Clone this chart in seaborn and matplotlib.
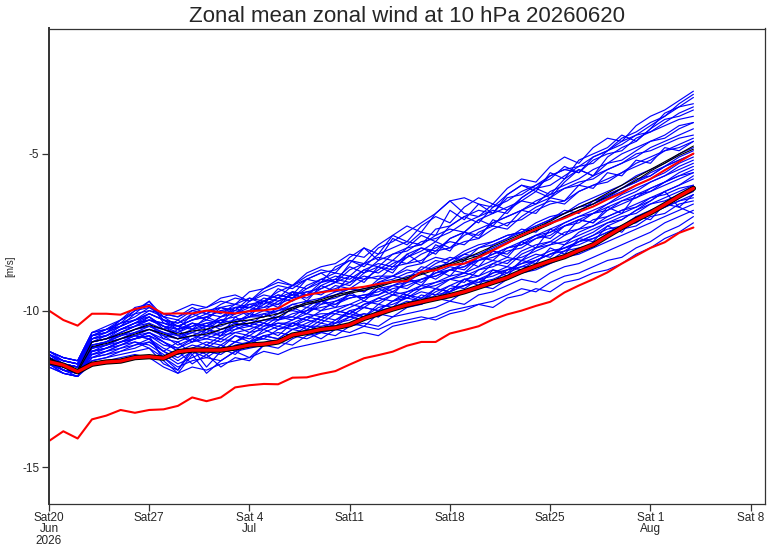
import pandas as pd
import numpy as np
import seaborn as sns
import matplotlib.pyplot as plt

# forecast start and daily steps (46 days)
start_date = "2026-06-20"
n_days = 46

# ensemble members, m/s, one value per day
members = {
    "m01": [-11.3,-11.5,-11.6,-10.7,-10.6,-10.4,-10.2,-9.9,-10.2,-10.3,-10.0,-9.9,-9.7,-9.8,-9.4,-9.3,-9.0,-9.2,-8.8,-8.6,-8.5,-8.2,-8.3,-7.9,-7.6,-7.8,-7.3,-7.0,-7.2,-6.7,-6.4,-6.6,-6.1,-5.8,-5.9,-5.4,-5.1,-5.3,-4.8,-4.5,-4.6,-4.1,-3.8,-3.6,-3.3,-3.0],
    "m02": [-11.8,-12.0,-12.1,-11.7,-11.6,-11.5,-11.4,-11.5,-11.8,-12.0,-11.8,-11.9,-11.7,-11.6,-11.5,-11.3,-11.4,-11.2,-11.1,-11.0,-10.9,-10.8,-10.7,-10.8,-10.5,-10.4,-10.3,-10.2,-10.0,-9.9,-9.8,-9.7,-9.5,-9.3,-9.4,-9.1,-8.9,-8.8,-8.6,-8.4,-8.3,-8.0,-7.8,-7.5,-7.3,-7.0],
    "m03": [-11.5,-11.8,-11.9,-11.1,-11.0,-10.8,-10.6,-10.5,-10.7,-10.9,-10.6,-10.7,-10.4,-10.3,-10.2,-10.1,-10.0,-9.8,-9.7,-9.6,-9.4,-9.3,-9.4,-9.1,-9.0,-8.8,-8.7,-8.4,-8.5,-8.2,-8.0,-7.8,-7.6,-7.5,-7.2,-7.0,-6.9,-6.6,-6.4,-6.2,-6.0,-5.7,-5.5,-5.3,-5.0,-4.8],
    "m04": [-11.4,-11.7,-11.8,-10.9,-10.8,-10.6,-10.4,-10.2,-10.5,-10.8,-11.0,-10.8,-10.9,-10.6,-10.4,-10.5,-10.2,-10.3,-10.0,-9.7,-9.8,-9.5,-9.6,-9.2,-9.4,-9.1,-8.8,-9.0,-8.7,-8.6,-8.3,-8.4,-8.0,-7.9,-7.6,-7.7,-7.3,-7.1,-7.2,-6.8,-6.6,-6.4,-6.2,-6.0,-5.8,-5.6],
    "m05": [-11.4,-11.6,-11.7,-10.8,-10.7,-10.5,-10.1,-9.7,-10.4,-10.6,-10.1,-10.3,-9.9,-10.0,-9.6,-9.8,-9.3,-9.5,-9.0,-8.8,-9.1,-8.5,-8.0,-8.4,-7.7,-7.9,-7.5,-7.6,-6.8,-7.1,-6.6,-6.9,-6.3,-6.0,-6.2,-5.6,-5.8,-5.2,-5.0,-4.8,-4.4,-4.6,-4.2,-3.9,-3.8,-3.6],
    "m06": [-11.7,-11.9,-12.0,-11.5,-11.4,-11.2,-11.0,-11.1,-11.4,-11.7,-11.5,-11.3,-11.4,-11.1,-11.0,-10.8,-10.9,-10.6,-10.5,-10.6,-10.3,-10.1,-10.2,-9.9,-9.8,-9.6,-9.7,-9.4,-9.2,-9.3,-9.0,-8.8,-8.7,-8.5,-8.3,-8.1,-8.0,-7.8,-7.6,-7.4,-7.3,-7.0,-6.8,-6.6,-6.4,-6.2],
    "m07": [-11.5,-11.7,-11.8,-11.0,-10.9,-10.7,-10.5,-10.3,-10.4,-10.5,-10.3,-10.2,-10.0,-9.9,-9.9,-9.7,-9.5,-9.6,-9.3,-9.1,-8.9,-9.0,-8.7,-8.5,-8.6,-8.2,-8.0,-8.1,-7.7,-7.5,-7.6,-7.2,-7.0,-6.8,-6.5,-6.3,-6.1,-6.0,-5.7,-5.5,-5.3,-5.1,-4.8,-4.6,-4.4,-4.2],
    "m08": [-11.6,-11.9,-12.0,-11.3,-11.2,-11.0,-10.9,-10.8,-11.6,-12.0,-11.4,-12.0,-11.6,-11.3,-11.5,-11.1,-11.2,-10.9,-10.7,-10.9,-10.6,-10.4,-10.5,-10.1,-10.2,-9.9,-9.8,-9.6,-9.7,-9.4,-9.2,-9.3,-9.0,-8.8,-8.7,-8.5,-8.3,-8.2,-8.0,-7.8,-7.6,-7.4,-7.2,-7.0,-6.8,-6.6],
    "m09": [-11.5,-11.8,-11.9,-11.2,-11.1,-10.9,-10.8,-10.6,-10.8,-11.1,-10.9,-10.7,-10.8,-10.5,-10.3,-10.4,-10.1,-10.0,-10.1,-9.8,-9.7,-9.5,-9.6,-9.3,-9.2,-9.0,-9.1,-8.8,-8.6,-8.7,-8.3,-8.1,-8.2,-7.8,-7.6,-7.5,-7.2,-7.0,-6.9,-6.6,-6.4,-6.2,-5.9,-5.7,-5.4,-5.2],
    "m10": [-11.3,-11.5,-11.6,-10.8,-10.7,-10.4,-10.3,-10.1,-10.3,-10.5,-10.6,-10.4,-10.6,-10.5,-10.7,-10.4,-10.6,-10.5,-10.3,-10.4,-10.1,-10.2,-9.9,-10.0,-9.7,-9.5,-9.6,-9.3,-9.4,-9.0,-8.9,-8.7,-8.8,-8.4,-8.2,-8.3,-7.9,-7.7,-7.5,-7.2,-7.0,-6.9,-6.6,-6.4,-6.2,-6.0],
    "m11": [-11.6,-11.8,-11.9,-11.2,-11.0,-10.8,-10.6,-10.4,-10.6,-10.7,-10.5,-10.3,-10.4,-10.1,-10.0,-9.7,-9.8,-9.4,-9.5,-9.1,-9.0,-8.6,-8.8,-8.4,-8.2,-8.0,-7.6,-7.8,-7.3,-7.0,-7.2,-6.7,-6.5,-6.2,-6.0,-5.8,-5.4,-5.6,-5.1,-4.9,-4.5,-4.3,-4.0,-3.8,-3.5,-3.4],
    "m12": [-11.6,-11.9,-12.0,-11.4,-11.3,-11.1,-10.9,-10.7,-11.0,-11.3,-11.1,-11.2,-10.9,-11.0,-10.7,-10.6,-10.4,-10.5,-10.2,-10.3,-10.0,-10.1,-9.8,-9.7,-9.5,-9.6,-9.3,-9.2,-9.0,-9.1,-8.7,-8.5,-8.6,-8.2,-8.0,-7.9,-7.6,-7.4,-7.3,-7.0,-6.8,-6.7,-6.4,-6.2,-6.0,-5.8],
    "m13": [-11.4,-11.6,-11.7,-10.9,-10.8,-10.6,-10.4,-10.1,-10.3,-10.4,-10.2,-10.0,-9.9,-10.1,-9.7,-9.5,-9.6,-9.2,-9.0,-9.1,-8.6,-8.4,-8.5,-8.0,-7.8,-7.5,-7.2,-6.9,-6.5,-6.9,-7.0,-6.6,-6.8,-6.4,-6.1,-6.3,-5.8,-5.5,-5.7,-5.3,-5.0,-4.8,-4.6,-4.4,-4.1,-4.0],
    "m14": [-11.5,-11.7,-11.8,-11.0,-10.9,-10.8,-10.6,-10.5,-10.6,-10.8,-10.7,-10.5,-10.3,-10.4,-10.2,-10.0,-10.1,-9.8,-9.9,-9.6,-9.5,-9.3,-9.4,-9.0,-8.9,-8.7,-8.8,-8.5,-8.3,-8.4,-8.0,-7.9,-7.7,-7.4,-7.5,-7.1,-6.9,-6.7,-6.6,-6.3,-6.1,-5.9,-5.6,-5.4,-5.2,-5.0],
    "m15": [-11.7,-11.9,-12.0,-11.6,-11.5,-11.3,-11.2,-11.0,-11.3,-11.5,-11.2,-11.4,-11.1,-11.3,-11.0,-10.9,-11.0,-10.8,-10.9,-10.7,-10.6,-10.7,-10.5,-10.6,-10.4,-10.3,-10.2,-10.3,-10.1,-10.0,-9.8,-9.9,-9.6,-9.5,-9.3,-9.4,-9.1,-9.0,-8.8,-8.7,-8.5,-8.2,-8.0,-7.7,-7.5,-7.2],
    "m16": [-11.4,-11.7,-11.8,-10.9,-10.8,-10.5,-10.3,-10.2,-10.5,-10.6,-10.4,-10.5,-10.2,-10.0,-10.1,-9.8,-9.6,-9.7,-9.4,-9.3,-9.1,-8.9,-9.0,-8.7,-8.4,-8.5,-8.2,-8.0,-7.8,-7.9,-7.5,-7.3,-7.4,-7.0,-6.7,-6.5,-6.6,-6.2,-6.0,-5.8,-5.6,-5.3,-5.1,-4.9,-4.7,-4.5],
    "m17": [-11.6,-11.8,-11.9,-11.1,-11.0,-10.7,-10.5,-10.4,-10.9,-10.6,-11.0,-10.6,-10.8,-10.2,-10.5,-10.1,-10.3,-9.9,-10.1,-9.7,-9.9,-9.4,-9.7,-9.3,-9.5,-9.0,-9.2,-8.7,-8.9,-8.4,-8.6,-8.1,-8.3,-7.8,-8.0,-7.4,-7.6,-7.1,-7.2,-6.7,-6.9,-6.3,-6.2,-5.9,-5.6,-5.4],
    "m18": [-11.7,-12.0,-12.1,-11.5,-11.3,-11.2,-11.1,-10.9,-11.2,-11.4,-11.2,-11.0,-11.1,-10.8,-10.9,-10.7,-10.5,-10.6,-10.4,-10.2,-10.3,-10.0,-9.9,-10.0,-9.7,-9.6,-9.4,-9.5,-9.2,-9.0,-9.1,-8.8,-8.6,-8.7,-8.4,-8.2,-8.0,-7.9,-7.7,-7.5,-7.3,-7.2,-6.9,-6.7,-6.5,-6.4],
    "m19": [-11.3,-11.6,-11.7,-10.8,-10.6,-10.5,-10.3,-10.0,-10.1,-10.2,-9.9,-10.1,-9.8,-9.6,-9.7,-9.4,-9.2,-9.3,-9.0,-8.8,-8.7,-8.4,-8.6,-8.2,-8.0,-7.8,-7.9,-7.4,-7.3,-7.0,-6.8,-6.9,-6.4,-6.3,-6.0,-5.7,-5.5,-5.6,-5.2,-5.0,-4.9,-4.5,-4.3,-4.1,-3.9,-3.8],
    "m20": [-11.5,-11.8,-11.9,-11.1,-11.0,-10.9,-10.7,-10.6,-10.8,-10.9,-10.7,-10.8,-10.6,-10.4,-10.5,-10.3,-10.2,-10.2,-9.9,-10.0,-9.7,-9.6,-9.5,-9.5,-9.2,-9.3,-9.0,-8.9,-8.7,-8.8,-8.4,-8.3,-8.1,-8.0,-7.7,-7.6,-7.3,-7.2,-6.9,-6.8,-6.5,-6.4,-6.1,-5.9,-5.7,-5.5],
    "m21": [-11.6,-11.9,-12.1,-11.4,-11.3,-11.1,-11.0,-11.2,-11.7,-11.9,-11.3,-11.5,-11.2,-11.4,-11.0,-10.8,-10.9,-10.6,-10.7,-10.4,-10.5,-10.2,-10.3,-10.0,-9.9,-9.7,-9.8,-9.5,-9.4,-9.2,-9.0,-9.1,-8.7,-8.6,-8.4,-8.2,-8.1,-7.8,-7.6,-7.3,-7.1,-6.8,-6.5,-6.2,-6.7,-6.9],
    "m22": [-11.5,-11.7,-11.8,-11.0,-10.9,-10.7,-10.5,-10.3,-10.5,-10.7,-10.4,-10.5,-10.2,-10.1,-9.9,-10.0,-9.7,-9.5,-9.6,-9.3,-9.1,-9.2,-8.8,-8.6,-8.7,-8.3,-8.0,-8.2,-7.7,-7.5,-7.1,-7.3,-6.8,-6.5,-6.2,-6.4,-5.9,-5.5,-5.7,-5.1,-4.8,-4.6,-4.2,-3.7,-3.5,-3.2],
    "m23": [-11.6,-11.8,-12.0,-11.3,-11.2,-11.0,-10.8,-10.7,-11.0,-11.2,-10.9,-11.1,-10.8,-10.7,-10.6,-10.4,-10.5,-10.3,-10.1,-10.2,-10.0,-9.8,-9.9,-9.6,-9.4,-9.5,-9.2,-9.1,-8.9,-8.8,-8.6,-8.4,-8.5,-8.1,-7.9,-7.8,-7.5,-7.4,-7.1,-7.0,-6.8,-6.6,-6.4,-6.3,-6.1,-6.0],
    "m24": [-11.4,-11.6,-11.7,-10.8,-10.6,-10.4,-10.0,-9.7,-10.2,-10.5,-10.3,-10.1,-10.2,-9.9,-9.8,-9.9,-9.6,-9.4,-9.5,-9.2,-9.0,-9.1,-8.7,-8.8,-8.5,-8.3,-8.1,-7.8,-8.0,-7.6,-7.4,-7.2,-7.0,-6.8,-6.6,-6.4,-6.1,-5.9,-5.8,-5.5,-5.3,-5.0,-4.9,-4.7,-4.5,-4.4],
    "m25": [-11.4,-11.7,-11.8,-10.9,-10.8,-10.6,-10.4,-10.3,-10.5,-10.6,-10.5,-10.4,-10.3,-10.2,-10.0,-9.9,-9.8,-9.6,-9.5,-9.4,-9.3,-9.1,-8.9,-9.0,-8.6,-8.5,-8.4,-8.1,-8.0,-7.8,-7.7,-7.4,-7.2,-7.1,-6.8,-6.6,-6.5,-6.2,-6.0,-5.9,-5.6,-5.4,-5.2,-4.9,-4.8,-4.6],
    "m26": [-11.6,-11.9,-12.0,-11.3,-11.1,-11.0,-10.8,-10.9,-11.3,-11.0,-11.4,-11.1,-11.2,-10.8,-11.0,-10.6,-10.8,-10.4,-10.6,-10.3,-10.4,-10.0,-10.2,-9.8,-9.9,-9.5,-9.7,-9.3,-9.4,-9.0,-9.2,-8.7,-8.9,-8.4,-8.5,-8.0,-8.2,-7.7,-7.8,-7.3,-7.5,-7.0,-7.1,-6.6,-6.7,-6.3],
    "m27": [-11.3,-11.5,-11.6,-10.7,-10.6,-10.3,-10.1,-10.0,-10.2,-10.0,-9.8,-9.9,-9.6,-9.5,-9.7,-9.3,-9.1,-9.2,-8.9,-8.7,-8.8,-8.3,-8.0,-8.2,-7.6,-7.3,-7.5,-6.9,-6.5,-6.4,-6.6,-6.7,-6.3,-6.0,-6.1,-5.7,-5.5,-5.4,-5.1,-4.9,-4.7,-4.4,-4.3,-4.0,-3.7,-3.5],
    "m28": [-11.8,-12.0,-12.1,-11.6,-11.5,-11.4,-11.3,-11.2,-11.5,-11.8,-11.6,-11.5,-11.6,-11.3,-11.2,-11.1,-11.0,-11.1,-10.8,-10.7,-10.8,-10.5,-10.4,-10.5,-10.2,-10.1,-10.0,-9.9,-9.7,-9.8,-9.5,-9.4,-9.2,-9.0,-9.1,-8.8,-8.6,-8.5,-8.3,-8.1,-7.9,-7.7,-7.5,-7.2,-7.0,-6.8],
    "m29": [-11.5,-11.8,-11.9,-11.2,-11.0,-10.8,-10.7,-10.5,-10.7,-10.8,-10.6,-10.5,-10.5,-10.3,-10.2,-10.2,-10.0,-9.9,-9.8,-9.7,-9.6,-9.4,-9.3,-9.2,-9.1,-8.9,-8.8,-8.6,-8.5,-8.3,-8.2,-8.0,-7.8,-7.6,-7.4,-7.2,-7.0,-6.8,-6.6,-6.4,-6.2,-6.0,-5.8,-5.6,-5.3,-5.1],
    "m30": [-11.6,-11.9,-12.0,-11.2,-11.1,-10.9,-10.8,-10.9,-11.5,-11.9,-11.2,-11.8,-11.3,-11.0,-10.8,-10.9,-10.6,-10.4,-10.5,-10.2,-10.0,-10.1,-9.8,-9.6,-9.7,-9.4,-9.2,-9.3,-9.0,-8.8,-8.9,-8.5,-8.3,-8.4,-8.0,-7.8,-7.9,-7.5,-7.3,-7.1,-6.9,-6.7,-6.5,-6.2,-6.0,-5.7],
    "m31": [-11.4,-11.6,-11.7,-10.8,-10.7,-10.5,-10.3,-10.1,-10.3,-10.4,-10.1,-10.0,-10.1,-9.8,-9.6,-9.7,-9.4,-9.2,-9.3,-9.0,-8.8,-8.9,-8.5,-8.3,-8.4,-8.0,-7.9,-7.6,-7.4,-7.5,-7.1,-6.9,-6.7,-6.5,-6.6,-6.2,-6.0,-5.8,-5.5,-5.3,-5.2,-4.9,-4.6,-4.5,-4.2,-4.0],
    "m32": [-11.6,-11.9,-12.0,-11.3,-11.2,-11.1,-10.9,-10.8,-11.1,-11.2,-11.0,-10.9,-11.0,-10.7,-10.8,-10.5,-10.4,-10.4,-10.2,-10.1,-10.1,-9.9,-9.7,-9.8,-9.5,-9.4,-9.3,-9.1,-9.0,-8.9,-8.7,-8.6,-8.4,-8.3,-8.1,-7.9,-7.8,-7.6,-7.4,-7.2,-7.1,-6.8,-6.6,-6.5,-6.3,-6.1],
    "m33": [-11.4,-11.6,-11.7,-10.9,-10.7,-10.3,-9.9,-9.8,-10.3,-10.6,-10.4,-10.6,-10.3,-10.4,-10.1,-10.2,-9.9,-10.0,-9.7,-9.8,-9.5,-9.3,-9.4,-9.1,-8.9,-9.0,-8.6,-8.7,-8.4,-8.2,-8.3,-7.9,-7.7,-7.5,-7.3,-7.1,-6.8,-6.9,-6.5,-6.3,-6.1,-5.8,-5.7,-5.4,-5.1,-4.9],
    "m34": [-11.7,-11.9,-12.0,-11.4,-11.2,-11.0,-10.9,-10.7,-10.9,-11.0,-10.8,-10.9,-10.7,-10.6,-10.5,-10.6,-10.3,-10.2,-10.3,-10.0,-9.9,-9.8,-9.6,-9.5,-9.3,-9.2,-9.0,-8.9,-8.7,-8.6,-8.4,-8.2,-8.0,-7.9,-7.7,-7.5,-7.3,-7.1,-6.9,-6.7,-6.5,-6.3,-6.1,-5.9,-5.7,-5.6],
    "m35": [-11.5,-11.7,-11.8,-11.0,-10.8,-10.6,-10.4,-10.3,-10.4,-10.5,-10.3,-10.2,-10.0,-10.1,-9.8,-9.7,-9.5,-9.6,-9.2,-9.0,-9.1,-8.7,-8.5,-8.6,-8.2,-8.1,-7.8,-7.7,-7.5,-7.2,-7.0,-6.8,-6.9,-6.4,-6.1,-6.0,-5.7,-5.4,-5.3,-4.9,-4.6,-4.4,-4.1,-3.8,-3.4,-3.1],
    "m36": [-11.7,-12.0,-12.1,-11.5,-11.4,-11.3,-11.1,-11.0,-11.3,-11.6,-11.3,-11.2,-11.3,-11.0,-11.1,-10.8,-10.7,-10.8,-10.5,-10.5,-10.4,-10.2,-10.1,-10.2,-9.9,-9.8,-9.6,-9.6,-9.4,-9.2,-9.1,-9.0,-8.8,-8.6,-8.6,-8.4,-8.1,-8.0,-7.9,-7.6,-7.4,-7.3,-7.0,-6.9,-6.6,-6.5],
    "m37": [-11.5,-11.7,-11.8,-11.0,-10.9,-10.6,-10.5,-10.2,-10.6,-10.3,-10.6,-10.2,-10.4,-9.9,-10.2,-9.7,-9.9,-9.4,-9.7,-9.2,-9.4,-8.9,-9.1,-8.6,-8.8,-8.2,-8.5,-7.9,-8.1,-7.5,-7.7,-7.1,-7.3,-6.8,-6.9,-6.4,-6.5,-6.0,-6.1,-5.6,-5.7,-5.2,-5.3,-4.8,-4.9,-4.6],
    "m38": [-11.6,-11.8,-11.9,-11.2,-11.1,-10.9,-10.7,-10.6,-10.7,-10.9,-10.8,-10.6,-10.7,-10.5,-10.4,-10.3,-10.3,-10.1,-10.0,-9.9,-9.8,-9.6,-9.5,-9.4,-9.2,-9.1,-9.0,-8.8,-8.7,-8.5,-8.4,-8.2,-8.0,-7.8,-7.6,-7.4,-7.2,-7.0,-6.8,-6.6,-6.3,-6.1,-5.9,-5.7,-5.5,-5.3],
    "m39": [-11.3,-11.5,-11.6,-10.7,-10.5,-10.3,-10.0,-9.9,-10.1,-10.2,-10.0,-10.1,-9.9,-9.8,-9.9,-9.6,-9.7,-9.5,-9.4,-9.5,-9.2,-9.3,-9.0,-8.9,-8.9,-8.6,-8.5,-8.3,-8.4,-8.1,-7.9,-7.8,-7.6,-7.5,-7.3,-7.1,-6.9,-6.7,-6.5,-6.4,-6.1,-5.9,-5.7,-5.4,-5.2,-5.0],
    "m40": [-11.6,-11.9,-12.0,-11.3,-11.2,-11.0,-10.9,-10.8,-11.0,-11.3,-11.7,-11.4,-11.8,-11.5,-11.6,-11.1,-11.0,-10.8,-10.6,-10.7,-10.4,-10.3,-10.1,-10.2,-9.9,-9.8,-9.5,-9.6,-9.3,-9.2,-9.0,-8.9,-8.7,-8.5,-8.4,-8.2,-8.0,-7.8,-7.7,-7.5,-7.3,-7.1,-6.9,-6.7,-6.5,-6.3],
}

# ensemble mean and control (black)
ens_mean = [-11.55,-11.8,-11.95,-11.15,-11.05,-10.9,-10.75,-10.6,-10.75,-10.9,-10.8,-10.75,-10.6,-10.45,-10.4,-10.3,-10.2,-9.95,-9.8,-9.7,-9.55,-9.45,-9.35,-9.25,-9.1,-9.0,-8.85,-8.7,-8.55,-8.4,-8.25,-8.05,-7.85,-7.65,-7.45,-7.25,-7.0,-6.8,-6.6,-6.35,-6.1,-5.85,-5.55,-5.3,-5.05,-4.85]
control = [-11.5,-11.75,-11.9,-11.0,-10.9,-10.75,-10.6,-10.45,-10.6,-10.75,-10.65,-10.6,-10.45,-10.35,-10.3,-10.2,-10.1,-9.9,-9.75,-9.65,-9.5,-9.4,-9.3,-9.2,-9.05,-8.95,-8.8,-8.65,-8.5,-8.35,-8.15,-7.95,-7.75,-7.55,-7.35,-7.15,-6.9,-6.7,-6.5,-6.25,-6.0,-5.75,-5.5,-5.25,-5.0,-4.75]

# climatology (red)
clim_upper = [-10.0,-10.3,-10.48,-10.1,-10.1,-10.13,-9.95,-9.85,-10.1,-10.09,-10.09,-10.0,-10.05,-10.09,-10.02,-9.99,-9.93,-9.67,-9.5,-9.42,-9.35,-9.3,-9.24,-9.15,-9.08,-9.06,-8.76,-8.71,-8.55,-8.5,-8.3,-8.08,-7.85,-7.6,-7.4,-7.22,-7.05,-6.85,-6.68,-6.45,-6.25,-6.0,-5.8,-5.52,-5.25,-4.99]
clim_mean = [-11.63,-11.74,-11.95,-11.71,-11.64,-11.61,-11.5,-11.47,-11.52,-11.31,-11.26,-11.26,-11.26,-11.19,-11.1,-11.07,-11.0,-10.78,-10.7,-10.6,-10.55,-10.45,-10.25,-10.1,-9.95,-9.82,-9.72,-9.62,-9.52,-9.4,-9.25,-9.1,-8.95,-8.75,-8.58,-8.42,-8.28,-8.08,-7.9,-7.62,-7.35,-7.1,-6.88,-6.62,-6.35,-6.1]
clim_lower = [-14.16,-13.85,-14.08,-13.47,-13.35,-13.17,-13.26,-13.17,-13.15,-13.04,-12.77,-12.89,-12.77,-12.45,-12.38,-12.34,-12.35,-12.14,-12.13,-12.02,-11.93,-11.72,-11.52,-11.42,-11.31,-11.12,-11.0,-11.0,-10.73,-10.62,-10.5,-10.28,-10.12,-10.0,-9.85,-9.72,-9.42,-9.2,-9.0,-8.78,-8.5,-8.25,-8.0,-7.82,-7.52,-7.35]

tick_dates = ["2026-06-20", "2026-06-27", "2026-07-04", "2026-07-11",
              "2026-07-18", "2026-07-25", "2026-08-01", "2026-08-08"]
tick_labels = ["Sat20\nJun\n2026", "Sat27", "Sat 4\nJul", "Sat11",
               "Sat18", "Sat25", "Sat 1\nAug", "Sat 8"]
y_ticks = [-15, -10, -5]

dates = pd.date_range(start_date, periods=n_days, freq="D")

for name, vals in members.items():
    if len(vals) != n_days:
        raise ValueError(f"{name} has {len(vals)} values")

ens_df = pd.DataFrame(members, index=dates).reset_index(names="date")
ens_df = ens_df.melt(id_vars="date", var_name="member", value_name="u")

sns.set_style("ticks")
plt.rcParams['font.family'] = ['Liberation Sans', 'DejaVu Sans']

fig = plt.figure(figsize=(7.7, 5.48), dpi=100)
ax = fig.add_axes([49 / 770, 1 - 504 / 548, 716 / 770, 475.5 / 548])

sns.lineplot(data=ens_df, x="date", y="u", units="member", estimator=None,
             color="#0000ff", lw=0.85, ax=ax, legend=False)

for vals in [ens_mean, control]:
    sns.lineplot(x=dates, y=vals, color="black", lw=0.8, ax=ax)

sns.lineplot(x=dates, y=clim_upper, color="#ff0000", lw=1.5, ax=ax)
sns.lineplot(x=dates, y=clim_lower, color="#ff0000", lw=1.5, ax=ax)
sns.lineplot(x=dates, y=clim_mean, color="black", lw=3.8, ax=ax)
sns.lineplot(x=dates, y=clim_mean, color="#ff0000", lw=2.4, ax=ax)

ax.set_xlim(pd.Timestamp("2026-06-20"), pd.Timestamp("2026-08-09"))
ax.set_ylim(-16.17, -1.0)
ax.set_xticks(pd.to_datetime(tick_dates))
ax.set_xticklabels(tick_labels, fontsize=8.5, linespacing=0.9)
ax.set_yticks(y_ticks)
ax.set_yticklabels([str(t) for t in y_ticks], fontsize=8.5)
ax.tick_params(direction="out", length=5, width=0.9, color="#333333", pad=2)
ax.tick_params(axis="x", pad=1)
for side in ["top", "right", "bottom", "left"]:
    ax.spines[side].set_visible(True)
    ax.spines[side].set_color("#333333")
    ax.spines[side].set_linewidth(0.9)
ax.spines["left"].set_linewidth(1.4)

ax.set_xlabel("")
ax.set_ylabel("[m/s]", fontsize=7, labelpad=5)
ax.set_title("Zonal mean zonal wind at 10 hPa 20260620", fontsize=16, pad=5)

fig.savefig("out.png", dpi=100)
plt.close(fig)
